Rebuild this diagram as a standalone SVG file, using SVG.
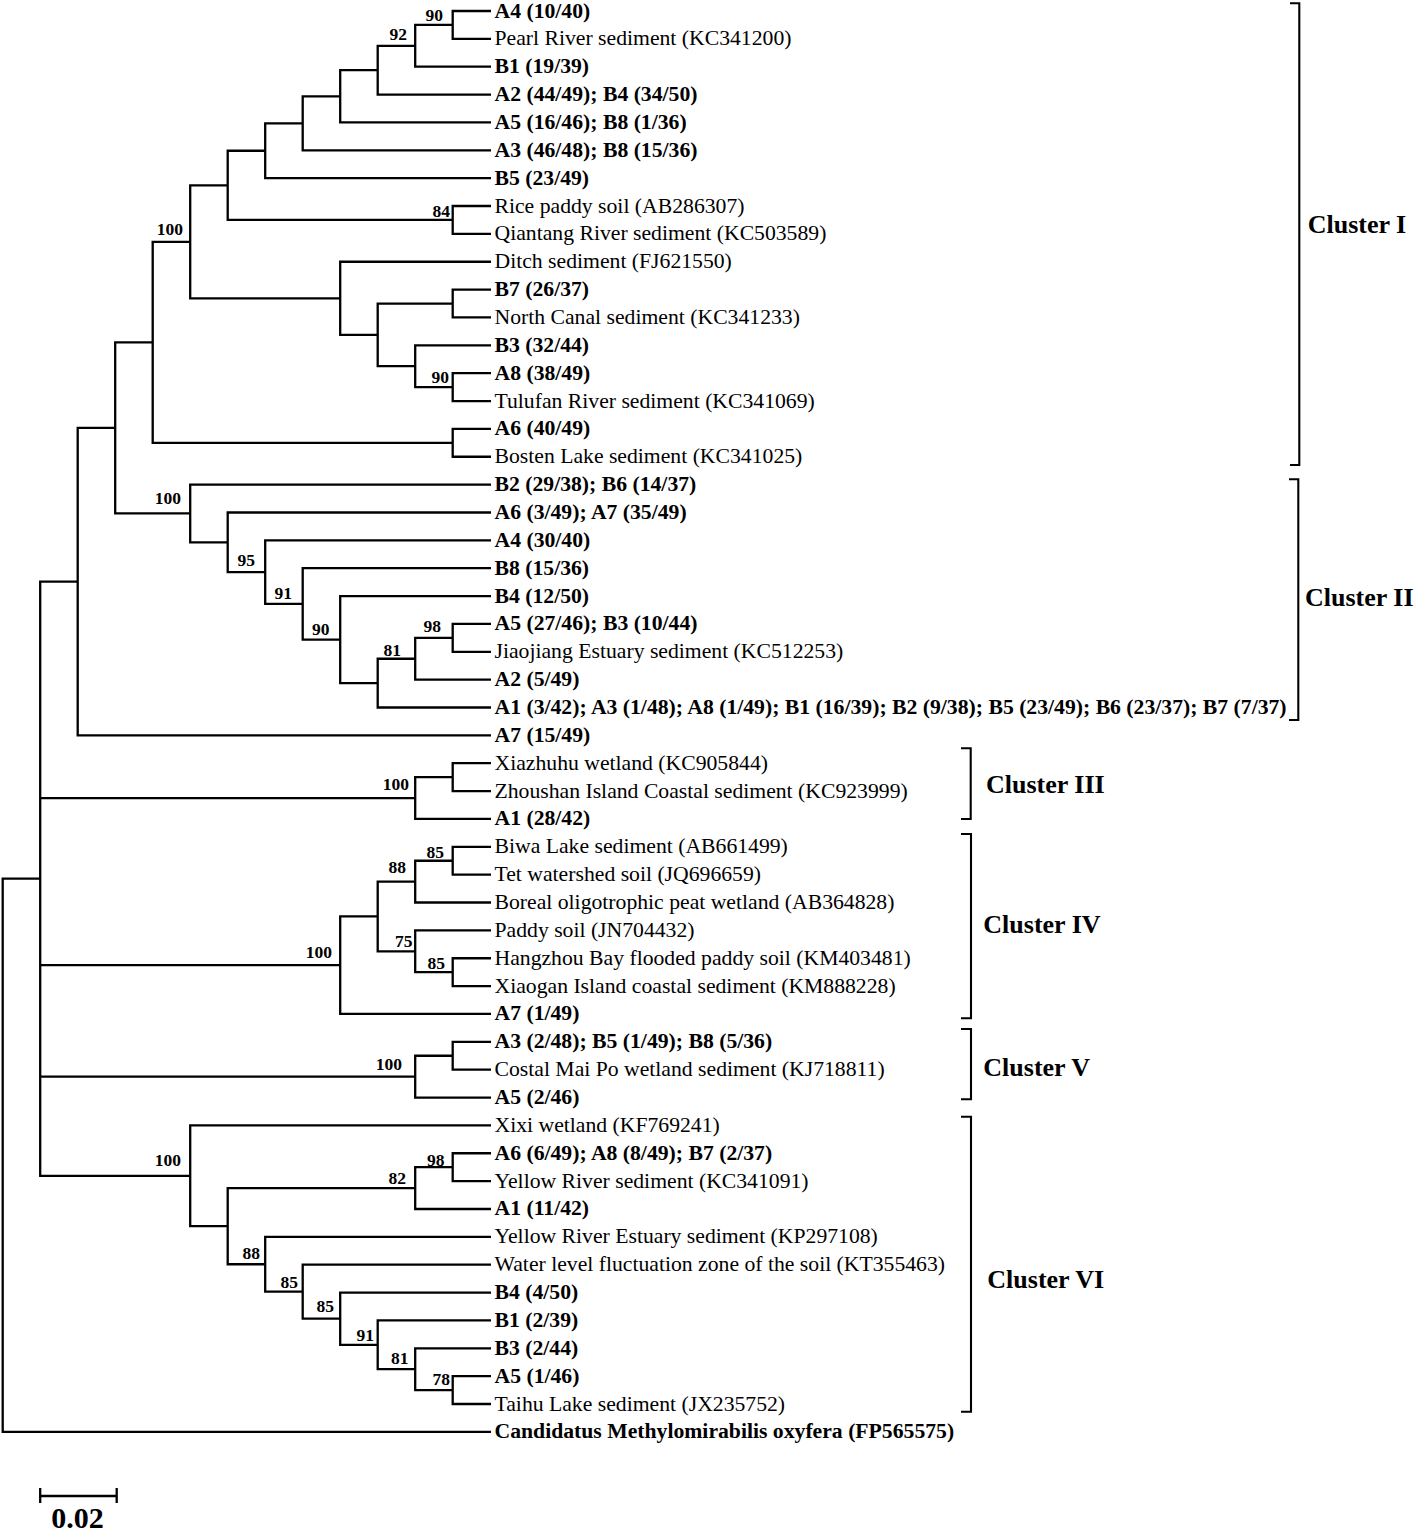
<svg xmlns="http://www.w3.org/2000/svg" width="1418" height="1533" viewBox="0 0 1418 1533">
<style>
.br{fill:none;stroke:#000;stroke-width:2.3;stroke-linejoin:miter}
.bk{fill:none;stroke:#000;stroke-width:2.1}
text{font-family:"Liberation Serif","Times New Roman",serif;fill:#000}
.lf{font-size:21.7px}
.b{font-weight:bold}
.bs{font-size:17.5px;font-weight:bold;text-anchor:end}
.cl{font-size:26px;font-weight:bold}
</style>
<rect width="1418" height="1533" fill="#fff"/>
<g id="connectors">
<path class="br" d="M491 11 H452.7 V38.86 H491"/>
<path class="br" d="M452.7 24.93 H415.2 V66.72 H491"/>
<path class="br" d="M415.2 45.83 H377.7 V94.58 H491"/>
<path class="br" d="M377.7 70.2 H340.2 V122.44 H491"/>
<path class="br" d="M340.2 96.32 H302.7 V150.3 H491"/>
<path class="br" d="M302.7 123.31 H265.2 V178.16 H491"/>
<path class="br" d="M491 206.02 H452.7 V233.88 H491"/>
<path class="br" d="M265.2 150.74 H227.7 V219.95 H452.7"/>
<path class="br" d="M491 289.6 H452.7 V317.46 H491"/>
<path class="br" d="M491 373.18 H452.7 V401.04 H491"/>
<path class="br" d="M491 345.32 H415.2 V387.11 H452.7"/>
<path class="br" d="M452.7 303.53 H377.7 V366.22 H415.2"/>
<path class="br" d="M491 261.74 H340.2 V334.87 H377.7"/>
<path class="br" d="M227.7 185.35 H190.2 V298.31 H340.2"/>
<path class="br" d="M491 428.9 H452.7 V456.76 H491"/>
<path class="br" d="M190.2 241.83 H152.7 V442.83 H452.7"/>
<path class="br" d="M491 623.92 H452.7 V651.78 H491"/>
<path class="br" d="M452.7 637.85 H415.2 V679.64 H491"/>
<path class="br" d="M415.2 658.75 H377.7 V707.5 H491"/>
<path class="br" d="M491 596.06 H340.2 V683.12 H377.7"/>
<path class="br" d="M491 568.2 H302.7 V639.59 H340.2"/>
<path class="br" d="M491 540.34 H265.2 V603.9 H302.7"/>
<path class="br" d="M491 512.48 H227.7 V572.12 H265.2"/>
<path class="br" d="M491 484.62 H190.2 V542.3 H227.7"/>
<path class="br" d="M152.7 342.33 H115.2 V513.46 H190.2"/>
<path class="br" d="M115.2 427.9 H77.7 V735.36 H491"/>
<path class="br" d="M491 763.22 H452.7 V791.08 H491"/>
<path class="br" d="M452.7 777.15 H415.2 V818.94 H491"/>
<path class="br" d="M491 846.8 H452.7 V874.66 H491"/>
<path class="br" d="M452.7 860.73 H415.2 V902.52 H491"/>
<path class="br" d="M491 958.24 H452.7 V986.1 H491"/>
<path class="br" d="M491 930.38 H415.2 V972.17 H452.7"/>
<path class="br" d="M415.2 881.63 H377.7 V951.28 H415.2"/>
<path class="br" d="M377.7 916.45 H340.2 V1013.96 H491"/>
<path class="br" d="M491 1041.82 H452.7 V1069.68 H491"/>
<path class="br" d="M452.7 1055.75 H415.2 V1097.54 H491"/>
<path class="br" d="M491 1153.26 H452.7 V1181.12 H491"/>
<path class="br" d="M452.7 1167.19 H415.2 V1208.98 H491"/>
<path class="br" d="M491 1376.14 H452.7 V1404 H491"/>
<path class="br" d="M491 1348.28 H415.2 V1390.07 H452.7"/>
<path class="br" d="M491 1320.42 H377.7 V1369.18 H415.2"/>
<path class="br" d="M491 1292.56 H340.2 V1344.8 H377.7"/>
<path class="br" d="M491 1264.7 H302.7 V1318.68 H340.2"/>
<path class="br" d="M491 1236.84 H265.2 V1291.69 H302.7"/>
<path class="br" d="M415.2 1188.09 H227.7 V1264.27 H265.2"/>
<path class="br" d="M491 1125.4 H190.2 V1226.18 H227.7"/>
<path class="br" d="M77.7 581.63 H40.2 V1175.79 H190.2 M40.2 798.05 H415.2 M40.2 965.2 H340.2 M40.2 1076.65 H415.2"/>
<path class="br" d="M40.2 878.71 H2.7 V1431.86 H491"/>
</g>
<g id="leaves" transform="translate(0,1.5)">
<g id="leaf-0"><text class="lf b" x="494.5" y="16">A4 (10/40)</text></g>
<g id="leaf-1"><text class="lf" x="494.5" y="43.86">Pearl River sediment (KC341200)</text></g>
<g id="leaf-2"><text class="lf b" x="494.5" y="71.72">B1 (19/39)</text></g>
<g id="leaf-3"><text class="lf b" x="494.5" y="99.58">A2 (44/49); B4 (34/50)</text></g>
<g id="leaf-4"><text class="lf b" x="494.5" y="127.44">A5 (16/46); B8 (1/36)</text></g>
<g id="leaf-5"><text class="lf b" x="494.5" y="155.3">A3 (46/48); B8 (15/36)</text></g>
<g id="leaf-6"><text class="lf b" x="494.5" y="183.16">B5 (23/49)</text></g>
<g id="leaf-7"><text class="lf" x="494.5" y="211.02">Rice paddy soil (AB286307)</text></g>
<g id="leaf-8"><text class="lf" x="494.5" y="238.88">Qiantang River sediment (KC503589)</text></g>
<g id="leaf-9"><text class="lf" x="494.5" y="266.74">Ditch sediment (FJ621550)</text></g>
<g id="leaf-10"><text class="lf b" x="494.5" y="294.6">B7 (26/37)</text></g>
<g id="leaf-11"><text class="lf" x="494.5" y="322.46">North Canal sediment (KC341233)</text></g>
<g id="leaf-12"><text class="lf b" x="494.5" y="350.32">B3 (32/44)</text></g>
<g id="leaf-13"><text class="lf b" x="494.5" y="378.18">A8 (38/49)</text></g>
<g id="leaf-14"><text class="lf" x="494.5" y="406.04">Tulufan River sediment (KC341069)</text></g>
<g id="leaf-15"><text class="lf b" x="494.5" y="433.9">A6 (40/49)</text></g>
<g id="leaf-16"><text class="lf" x="494.5" y="461.76">Bosten Lake sediment (KC341025)</text></g>
<g id="leaf-17"><text class="lf b" x="494.5" y="489.62">B2 (29/38); B6 (14/37)</text></g>
<g id="leaf-18"><text class="lf b" x="494.5" y="517.48">A6 (3/49); A7 (35/49)</text></g>
<g id="leaf-19"><text class="lf b" x="494.5" y="545.34">A4 (30/40)</text></g>
<g id="leaf-20"><text class="lf b" x="494.5" y="573.2">B8 (15/36)</text></g>
<g id="leaf-21"><text class="lf b" x="494.5" y="601.06">B4 (12/50)</text></g>
<g id="leaf-22"><text class="lf b" x="494.5" y="628.92">A5 (27/46); B3 (10/44)</text></g>
<g id="leaf-23"><text class="lf" x="494.5" y="656.78">Jiaojiang Estuary sediment (KC512253)</text></g>
<g id="leaf-24"><text class="lf b" x="494.5" y="684.64">A2 (5/49)</text></g>
<g id="leaf-25"><text class="lf b" x="494.5" y="712.5">A1 (3/42); A3 (1/48); A8 (1/49); B1 (16/39); B2 (9/38); B5 (23/49); B6 (23/37); B7 (7/37)</text></g>
<g id="leaf-26"><text class="lf b" x="494.5" y="740.36">A7 (15/49)</text></g>
<g id="leaf-27"><text class="lf" x="494.5" y="768.22">Xiazhuhu wetland (KC905844)</text></g>
<g id="leaf-28"><text class="lf" x="494.5" y="796.08">Zhoushan Island Coastal sediment (KC923999)</text></g>
<g id="leaf-29"><text class="lf b" x="494.5" y="823.94">A1 (28/42)</text></g>
<g id="leaf-30"><text class="lf" x="494.5" y="851.8">Biwa Lake sediment (AB661499)</text></g>
<g id="leaf-31"><text class="lf" x="494.5" y="879.66">Tet watershed soil (JQ696659)</text></g>
<g id="leaf-32"><text class="lf" x="494.5" y="907.52">Boreal oligotrophic peat wetland (AB364828)</text></g>
<g id="leaf-33"><text class="lf" x="494.5" y="935.38">Paddy soil (JN704432)</text></g>
<g id="leaf-34"><text class="lf" x="494.5" y="963.24">Hangzhou Bay flooded paddy soil (KM403481)</text></g>
<g id="leaf-35"><text class="lf" x="494.5" y="991.1">Xiaogan Island coastal sediment (KM888228)</text></g>
<g id="leaf-36"><text class="lf b" x="494.5" y="1018.96">A7 (1/49)</text></g>
<g id="leaf-37"><text class="lf b" x="494.5" y="1046.82">A3 (2/48); B5 (1/49); B8 (5/36)</text></g>
<g id="leaf-38"><text class="lf" x="494.5" y="1074.68">Costal Mai Po wetland sediment (KJ718811)</text></g>
<g id="leaf-39"><text class="lf b" x="494.5" y="1102.54">A5 (2/46)</text></g>
<g id="leaf-40"><text class="lf" x="494.5" y="1130.4">Xixi wetland (KF769241)</text></g>
<g id="leaf-41"><text class="lf b" x="494.5" y="1158.26">A6 (6/49); A8 (8/49); B7 (2/37)</text></g>
<g id="leaf-42"><text class="lf" x="494.5" y="1186.12">Yellow River sediment (KC341091)</text></g>
<g id="leaf-43"><text class="lf b" x="494.5" y="1213.98">A1 (11/42)</text></g>
<g id="leaf-44"><text class="lf" x="494.5" y="1241.84">Yellow River Estuary sediment (KP297108)</text></g>
<g id="leaf-45"><text class="lf" x="494.5" y="1269.7">Water level fluctuation zone of the soil (KT355463)</text></g>
<g id="leaf-46"><text class="lf b" x="494.5" y="1297.56">B4 (4/50)</text></g>
<g id="leaf-47"><text class="lf b" x="494.5" y="1325.42">B1 (2/39)</text></g>
<g id="leaf-48"><text class="lf b" x="494.5" y="1353.28">B3 (2/44)</text></g>
<g id="leaf-49"><text class="lf b" x="494.5" y="1381.14">A5 (1/46)</text></g>
<g id="leaf-50"><text class="lf" x="494.5" y="1409">Taihu Lake sediment (JX235752)</text></g>
<g id="leaf-51"><text class="lf b" x="494.5" y="1436.86">Candidatus Methylomirabilis oxyfera (FP565575)</text></g>
</g>
<g id="bootstrap">
<text class="bs" x="443" y="20.5">90</text>
<text class="bs" x="407" y="40">92</text>
<text class="bs" x="450" y="217">84</text>
<text class="bs" x="183" y="235">100</text>
<text class="bs" x="449" y="383">90</text>
<text class="bs" x="181" y="504">100</text>
<text class="bs" x="255" y="566">95</text>
<text class="bs" x="292" y="599">91</text>
<text class="bs" x="329.5" y="635">90</text>
<text class="bs" x="441" y="631.5">98</text>
<text class="bs" x="401" y="655.5">81</text>
<text class="bs" x="409" y="790">100</text>
<text class="bs" x="444" y="858">85</text>
<text class="bs" x="406" y="873">88</text>
<text class="bs" x="412.5" y="946.5">75</text>
<text class="bs" x="445" y="969">85</text>
<text class="bs" x="332" y="957.5">100</text>
<text class="bs" x="402" y="1070">100</text>
<text class="bs" x="181" y="1166">100</text>
<text class="bs" x="444.5" y="1165.5">98</text>
<text class="bs" x="406" y="1184">82</text>
<text class="bs" x="260" y="1259">88</text>
<text class="bs" x="298" y="1287.5">85</text>
<text class="bs" x="334" y="1312">85</text>
<text class="bs" x="374" y="1340.5">91</text>
<text class="bs" x="408.5" y="1364">81</text>
<text class="bs" x="450" y="1385">78</text>
</g>
<g id="cluster-I"><path class="bk" d="M1290 3.3 H1299.3 V465 H1290"/><text class="cl" x="1307.7" y="233">Cluster I</text></g>
<g id="cluster-II"><path class="bk" d="M1289 479.3 H1298.3 V720 H1289"/><text class="cl" x="1305" y="605.7">Cluster II</text></g>
<g id="cluster-III"><path class="bk" d="M961 748.3 H970.7 V819 H961"/><text class="cl" x="986" y="793.3">Cluster III</text></g>
<g id="cluster-IV"><path class="bk" d="M961 834 H971 V1018.3 H961"/><text class="cl" x="983.3" y="933.3">Cluster IV</text></g>
<g id="cluster-V"><path class="bk" d="M961 1029 H971 V1099.3 H961"/><text class="cl" x="983.3" y="1076">Cluster V</text></g>
<g id="cluster-VI"><path class="bk" d="M961 1116.7 H971 V1411.7 H961"/><text class="cl" x="987.3" y="1288.3">Cluster VI</text></g>
<g id="scale-bar">
<path class="br" d="M40.2 1496 H116.7 M40.2 1488 V1503 M116.7 1488 V1503"/>
<text x="77.5" y="1528" style="font-size:30px;font-weight:bold;text-anchor:middle">0.02</text>
</g>
</svg>
